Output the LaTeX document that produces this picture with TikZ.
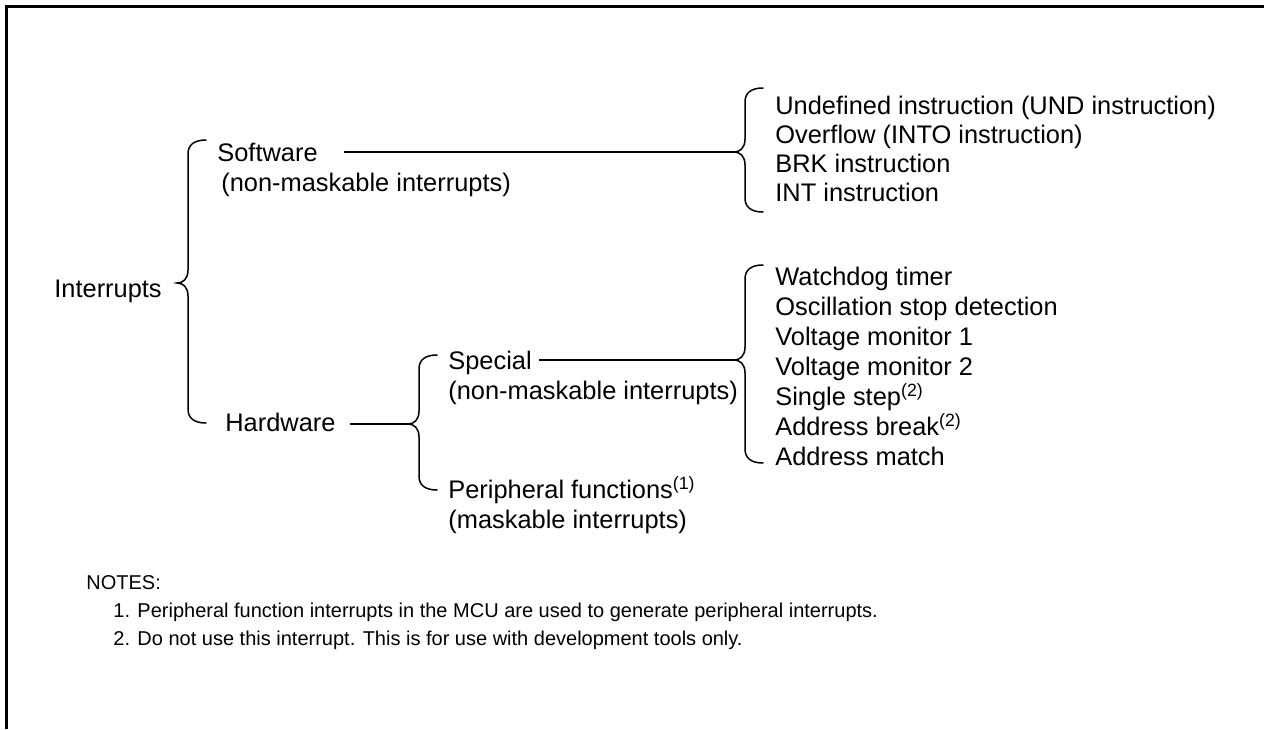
\documentclass[tikz,border=0pt]{standalone}
\usepackage{fontspec}
\setmainfont{Liberation Sans}
\usetikzlibrary{positioning,calc}
\newcommand{\fn}[1]{\textsuperscript{(#1)}}
% curly bracket open to the right: x of stem, y top, y tip, y bottom
\newcommand{\curly}[4]{%
  \draw[brace] ({#1+18},#2) .. controls ({#1+6},#2) and (#1,{#2+5}) .. (#1,{#2+14})
    -- (#1,{#3-13}) .. controls (#1,{#3-4}) and ({#1-5},#3) .. ({#1-11},#3)
    .. controls ({#1-5},#3) and (#1,{#3+4}) .. (#1,{#3+13})
    -- (#1,{#4-14}) .. controls (#1,{#4-5}) and ({#1+6},#4) .. ({#1+18},#4);}
\tikzset{
  lbl/.style={anchor=base west, inner sep=0pt, font=\fontsize{12.7}{15}\selectfont},
  note/.style={anchor=base west, inner sep=0pt, font=\fontsize{10}{14}\selectfont},
  brace/.style={line width=0.75pt, line cap=round},
  link/.style={line width=0.7pt},
  frame/.style={line width=1.5pt},
}
\begin{document}
\begin{tikzpicture}[x=0.5pt, y=-0.5pt]
  \useasboundingbox (0,0) rectangle (1264,729);
  \draw[frame] (1264,6.5) -- (6.5,6.5) -- (6.5,729);

  % tree
  \node[lbl] (intr) at (54,297) {Interrupts};
  \curly{188}{140}{283}{423}

  \node[lbl] (sw) at (217,161) {Software};
  \node[lbl] (swnm) at (221,191) {(non-maskable interrupts)};
  \node[lbl] (hw) at (225,431) {Hardware};

  \curly{745}{88}{152}{212}
  \coordinate (swtip) at (734,152);
  \node[lbl] (und) at (775,114) {Undefined instruction (UND instruction)};
  \node[lbl] (into) at (775,143) {Overflow (INTO instruction)};
  \node[lbl] (brk) at (775,172) {BRK instruction};
  \node[lbl] (int) at (775,201) {INT instruction};
  \draw[link, shorten <=13pt] (sw.east |- swtip) -- (swtip);

  \curly{419}{355}{424}{490}
  \coordinate (hwtip) at (408,424);
  \draw[link, shorten <=7pt] (hw.east |- hwtip) -- (hwtip);

  \node[lbl] (spc) at (448,369) {Special};
  \node[lbl] (spcnm) at (448,399) {(non-maskable interrupts)};
  \node[lbl] (per) at (448,498) {Peripheral functions\fn{1}};
  \node[lbl] (pernm) at (448,528) {(maskable interrupts)};

  \curly{745}{265}{360}{463}
  \coordinate (spctip) at (734,360);
  \draw[link, shorten <=3.5pt] (spc.east |- spctip) -- (spctip);
  \node[lbl] (wdt) at (775,285) {Watchdog timer};
  \node[lbl] (osc) at (775,315) {Oscillation stop detection};
  \node[lbl] (vm1) at (775,345) {Voltage monitor 1};
  \node[lbl] (vm2) at (775,375) {Voltage monitor 2};
  \node[lbl] (sstep) at (775,405) {Single step\fn{2}};
  \node[lbl] (abrk) at (775,435) {Address break\fn{2}};
  \node[lbl] (amatch) at (775,465) {Address match};

  % notes
  \node[note] (notes) at (86,589) {NOTES:};
  \node[note] (note1) at (113,617) {1. Peripheral function interrupts in the MCU are used to generate peripheral interrupts.};
  \node[note] (note2) at (113,645) {2. Do not use this interrupt. This is for use with development tools only.};
\end{tikzpicture}
\end{document}
